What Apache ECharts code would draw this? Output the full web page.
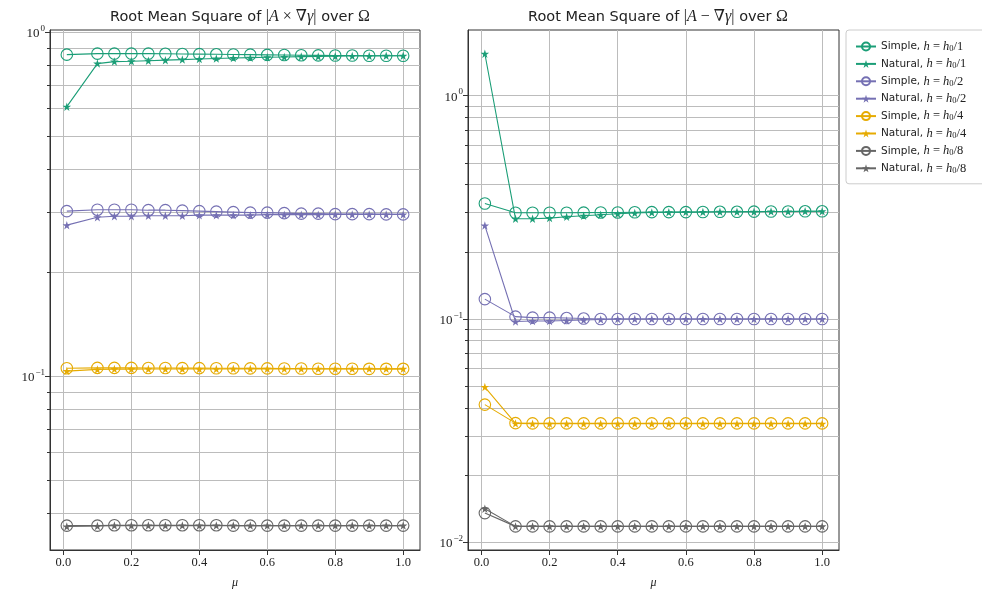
<!DOCTYPE html>
<html>
<head>
<meta charset="utf-8">
<script src="https://cdn.jsdelivr.net/npm/echarts@6/dist/echarts.min.js"></script>
<style>
  html, body { margin: 0; padding: 0; background: #fff; }
  #chart { width: 982px; height: 594px; }
</style>
</head>
<body>
<div id="chart"></div>
<script>
// Sample points of the coupling parameter mu
const mu = [0.01, 0.10, 0.15, 0.20, 0.25, 0.30, 0.35, 0.40, 0.45, 0.50,
            0.55, 0.60, 0.65, 0.70, 0.75, 0.80, 0.85, 0.90, 0.95, 1.00];

// RMS of |A x grad(gamma)| over Omega
const crossSimpleH1  = [0.861, 0.867, 0.867, 0.867, 0.867, 0.866, 0.865, 0.864, 0.863, 0.862, 0.861, 0.860, 0.859, 0.858, 0.857, 0.856, 0.856, 0.855, 0.855, 0.855];
const crossNaturalH1 = [0.608, 0.811, 0.822, 0.824, 0.827, 0.830, 0.833, 0.836, 0.839, 0.842, 0.844, 0.846, 0.848, 0.850, 0.851, 0.852, 0.853, 0.854, 0.855, 0.855];
const crossSimpleH2  = [0.302, 0.305, 0.305, 0.305, 0.304, 0.304, 0.303, 0.302, 0.301, 0.300, 0.299, 0.299, 0.298, 0.297, 0.297, 0.296, 0.296, 0.296, 0.2955, 0.2955];
const crossNaturalH2 = [0.275, 0.290, 0.292, 0.292, 0.293, 0.293, 0.293, 0.294, 0.294, 0.294, 0.294, 0.295, 0.295, 0.295, 0.295, 0.2955, 0.2955, 0.2955, 0.2955, 0.2955];
const crossSimpleH4  = [0.1055, 0.1058, 0.1058, 0.1058, 0.1057, 0.1057, 0.1056, 0.1056, 0.1055, 0.1055, 0.1054, 0.1054, 0.1053, 0.1053, 0.1052, 0.1052, 0.1052, 0.1051, 0.1051, 0.1051];
const crossNaturalH4 = [0.1035, 0.1047, 0.1049, 0.1049, 0.1050, 0.1050, 0.1050, 0.1050, 0.1050, 0.1051, 0.1051, 0.1051, 0.1051, 0.1051, 0.1051, 0.1051, 0.1051, 0.1051, 0.1051, 0.1051];
const crossSimpleH8  = [0.0368, 0.0368, 0.0369, 0.0369, 0.0369, 0.0369, 0.0369, 0.0369, 0.0369, 0.0368, 0.0368, 0.0368, 0.0368, 0.0368, 0.0368, 0.0368, 0.0368, 0.0368, 0.0368, 0.0368];
const crossNaturalH8 = [0.0366, 0.0367, 0.0368, 0.0368, 0.0368, 0.0368, 0.0368, 0.0368, 0.0368, 0.0368, 0.0368, 0.0368, 0.0368, 0.0368, 0.0368, 0.0368, 0.0368, 0.0368, 0.0368, 0.0368];

// RMS of |A - grad(gamma)| over Omega
const gradSimpleH1  = [0.329, 0.299, 0.299, 0.299, 0.299, 0.2995, 0.300, 0.300, 0.3005, 0.301, 0.301, 0.301, 0.3015, 0.302, 0.302, 0.3025, 0.303, 0.303, 0.3035, 0.3035];
const gradNaturalH1 = [1.54, 0.281, 0.281, 0.283, 0.287, 0.290, 0.293, 0.296, 0.2985, 0.300, 0.3005, 0.301, 0.3015, 0.302, 0.302, 0.3025, 0.303, 0.303, 0.3035, 0.3035];
const gradSimpleH2  = [0.1228, 0.1025, 0.1015, 0.1015, 0.1010, 0.1005, 0.1000, 0.1000, 0.1000, 0.1000, 0.1000, 0.1000, 0.1000, 0.1000, 0.1000, 0.1000, 0.1000, 0.1000, 0.1000, 0.1000];
const gradNaturalH2 = [0.262, 0.0975, 0.0980, 0.0980, 0.0985, 0.0990, 0.0995, 0.1000, 0.1000, 0.1000, 0.1000, 0.1000, 0.1000, 0.1000, 0.1000, 0.1000, 0.1000, 0.1000, 0.1000, 0.1000];
const gradSimpleH4  = [0.0414, 0.0342, 0.0341, 0.0341, 0.0341, 0.0341, 0.0341, 0.0341, 0.0341, 0.0341, 0.0341, 0.0341, 0.0341, 0.0341, 0.0341, 0.0341, 0.0341, 0.0341, 0.0341, 0.0341];
const gradNaturalH4 = [0.0496, 0.0341, 0.0340, 0.0340, 0.0340, 0.0340, 0.0340, 0.0340, 0.0340, 0.0340, 0.0340, 0.0340, 0.0340, 0.0340, 0.0340, 0.0340, 0.0340, 0.0340, 0.0340, 0.0340];
const gradSimpleH8  = [0.01353, 0.0118, 0.0118, 0.0118, 0.0118, 0.0118, 0.0118, 0.0118, 0.0118, 0.0118, 0.0118, 0.0118, 0.0118, 0.0118, 0.0118, 0.0118, 0.0118, 0.0118, 0.0118, 0.0118];
const gradNaturalH8 = [0.01415, 0.0118, 0.0118, 0.0118, 0.0118, 0.0118, 0.0118, 0.0118, 0.0118, 0.0118, 0.0118, 0.0118, 0.0118, 0.0118, 0.0118, 0.0118, 0.0118, 0.0118, 0.0118, 0.0118];

// Tick values
const xTicks = [0.0, 0.2, 0.4, 0.6, 0.8, 1.0];
const crossMajorTicks = [0.1, 1];
const crossMinorTicks = [0.04, 0.05, 0.06, 0.07, 0.08, 0.09, 0.2, 0.3, 0.4, 0.5, 0.6, 0.7, 0.8, 0.9];
const gradMajorTicks = [0.01, 0.1, 1];
const gradMinorTicks = [0.02, 0.03, 0.04, 0.05, 0.06, 0.07, 0.08, 0.09, 0.2, 0.3, 0.4, 0.5, 0.6, 0.7, 0.8, 0.9];

// Refinement levels and colours (Dark2)
const divisors = [1, 2, 4, 8];
const colors = ['#1b9e77', '#7570b3', '#e6ab02', '#666666'];
const crossSets = [[crossSimpleH1, crossNaturalH1], [crossSimpleH2, crossNaturalH2], [crossSimpleH4, crossNaturalH4], [crossSimpleH8, crossNaturalH8]];
const gradSets = [[gradSimpleH1, gradNaturalH1], [gradSimpleH2, gradNaturalH2], [gradSimpleH4, gradNaturalH4], [gradSimpleH8, gradNaturalH8]];

const SERIF = '"Liberation Serif", "DejaVu Serif", serif';
const SANS = '"DejaVu Sans", "Noto Sans", sans-serif';
const STAR = 'path://M0,-1L0.2245,-0.309L0.951,-0.309L0.363,0.118L0.588,0.809L0,0.382L-0.588,0.809L-0.363,0.118L-0.951,-0.309L-0.2245,-0.309Z';
const GRID_LINE = { color: '#bcbcbc', width: 1 };

const grids = [
  { left: 50, top: 30, width: 370, height: 523 },
  { left: 468, top: 30, width: 371, height: 523 }
];

function xAxis(gi) {
  return {
    type: 'value', gridIndex: gi, min: -0.0395, max: 1.0495,
    name: 'μ', nameLocation: 'middle', nameGap: 27,
    nameTextStyle: { fontFamily: SERIF, fontStyle: 'italic', fontSize: 12, color: '#222' },
    axisLine: { show: true, onZero: false, lineStyle: { color: '#333', width: 1 } },
    axisTick: { show: true, length: 5, lineStyle: { color: '#333' }, customValues: xTicks },
    axisLabel: { fontFamily: SERIF, fontSize: 12.5, color: '#222', margin: 6,
      customValues: xTicks, formatter: v => v.toFixed(1) },
    splitLine: { show: true, lineStyle: GRID_LINE }
  };
}

function expLabel(v) {
  const e = Math.round(Math.log10(v));
  return '{b|10}{e|' + (e < 0 ? '−' + (-e) : String(e)) + '}';
}

function yAxes(gi, min, max, majors, minors) {
  const common = { type: 'log', logBase: 10, gridIndex: gi, min: min, max: max, position: 'left' };
  return [
    Object.assign({}, common, {
      axisLine: { show: true, onZero: false, lineStyle: { color: '#333', width: 1 } },
      axisTick: { show: true, length: 5, lineStyle: { color: '#333' }, customValues: majors },
      axisLabel: {
        customValues: majors, margin: 5, formatter: expLabel,
        rich: {
          b: { fontFamily: SERIF, fontSize: 13, color: '#222', lineHeight: 16, verticalAlign: 'bottom' },
          e: { fontFamily: SERIF, fontSize: 9, color: '#222', lineHeight: 16, verticalAlign: 'top', padding: [0, 0, 2, 1] }
        }
      },
      splitLine: { show: true, lineStyle: GRID_LINE }
    }),
    Object.assign({}, common, {
      axisLine: { show: false, onZero: false },
      axisTick: { show: true, length: 3, lineStyle: { color: '#333' }, customValues: minors },
      axisLabel: { show: false },
      splitLine: { show: true, lineStyle: GRID_LINE }
    })
  ];
}

function seriesName(kind, d) { return kind + ', h = h0/' + d; }

function buildSeries(sets, xi, yi) {
  const out = [];
  sets.forEach((pair, k) => {
    ['Simple', 'Natural'].forEach((kind, j) => {
      const simple = j === 0;
      out.push({
        type: 'line', name: seriesName(kind, divisors[k]),
        xAxisIndex: xi, yAxisIndex: yi,
        data: mu.map((m, i) => [m, pair[j][i]]),
        symbol: simple ? 'circle' : STAR,
        symbolSize: simple ? 11.5 : 8.5,
        showAllSymbol: true,
        color: colors[k],
        itemStyle: simple
          ? { color: 'rgba(0,0,0,0)', borderColor: colors[k], borderWidth: 1.1 }
          : { color: colors[k], borderWidth: 0 },
        lineStyle: { color: colors[k], width: 1.1 },
        emphasis: { disabled: true },
        animation: false
      });
    });
  });
  return out;
}

const legendNames = [];
divisors.forEach(d => { legendNames.push(seriesName('Simple', d)); legendNames.push(seriesName('Natural', d)); });

function titleText(op) {
  return '{t|Root Mean Square of }{r||}{i|A}{r| ' + op + ' ∇}{i|γ}{r||}{t| over }{r|Ω}';
}
const titleRich = {
  t: { fontFamily: SANS, fontWeight: 'normal', fontSize: 14.5, color: '#222' },
  r: { fontFamily: SERIF, fontWeight: 'normal', fontSize: 16, color: '#222' },
  i: { fontFamily: SERIF, fontWeight: 'normal', fontStyle: 'italic', fontSize: 16, color: '#222' }
};

const chart = echarts.init(document.getElementById('chart'), null, { renderer: 'canvas' });
const yLeft = yAxes(0, 0.03125, 1.0156, crossMajorTicks, crossMinorTicks);
const yRight = yAxes(1, 0.00925, 1.967, gradMajorTicks, gradMinorTicks);

chart.setOption({
  backgroundColor: '#fff',
  animation: false,
  title: [
    { text: titleText('×'), left: 235, top: 4, textAlign: 'center', textStyle: { fontWeight: 'normal', rich: titleRich } },
    { text: titleText('−'), left: 653, top: 4, textAlign: 'center', textStyle: { fontWeight: 'normal', rich: titleRich } }
  ],
  grid: grids.map(g => Object.assign({ containLabel: false, show: true, borderColor: '#333', borderWidth: 1, backgroundColor: 'transparent' }, g)),
  xAxis: [xAxis(0), xAxis(1)],
  yAxis: yLeft.concat(yRight),
  legend: {
    data: legendNames,
    orient: 'vertical', left: 846, top: 30,
    itemWidth: 20, itemHeight: 10, itemGap: 4.4,
    padding: [10, 20, 9, 9],
    borderColor: '#cccccc', borderWidth: 1, borderRadius: 3,
    backgroundColor: '#fff',
    selectedMode: false,
    formatter: name => {
      const parts = name.split(', h = h0/');
      return '{s|' + parts[0] + ', }{i|h}{r| = }{i|h}{sub|0}{r|/' + parts[1] + '}';
    },
    textStyle: {
      lineHeight: 13,
      rich: {
        s: { fontFamily: SANS, fontSize: 10.5, color: '#222', lineHeight: 13 },
        i: { fontFamily: SERIF, fontStyle: 'italic', fontSize: 12.5, color: '#222', lineHeight: 13 },
        r: { fontFamily: SERIF, fontSize: 12.5, color: '#222', lineHeight: 13 },
        sub: { fontFamily: SERIF, fontSize: 8.5, color: '#222', lineHeight: 13, verticalAlign: 'bottom', padding: [4, 0, 0, 0] }
      }
    }
  },
  series: buildSeries(crossSets, 0, 0).concat(buildSeries(gradSets, 1, 2))
});
</script>
</body>
</html>
